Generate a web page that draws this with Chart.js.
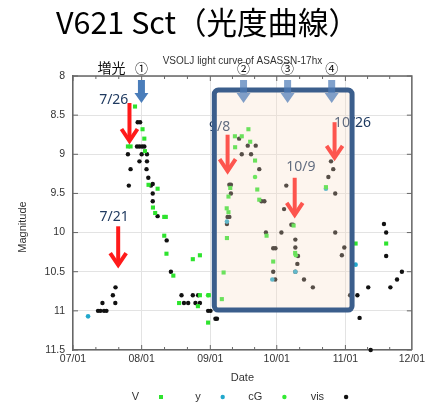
<!DOCTYPE html>
<html>
<head>
<meta charset="utf-8">
<script src="https://cdn.jsdelivr.net/npm/chart.js@4.4.1/dist/chart.umd.min.js"></script>
<style>
  html, body { margin: 0; padding: 0; background: #fff; }
  canvas { display: block; }
</style>
</head>
<body>
<canvas id="chart" width="428" height="403"></canvas>
<script>
// x values are days counted from 07/01
const monthStarts = [0, 31, 62, 92, 123, 153];
const monthLabels = ['07/01', '08/01', '09/01', '10/01', '11/01', '12/01'];
const magTicks = [8, 8.5, 9, 9.5, 10, 10.5, 11, 11.5];

const vDays = [28.0, 31.4, 24.8, 26.0, 32.2, 32.5, 34.1, 38.2, 36.1, 37.1, 41.2, 41.9, 41.2, 42.2, 54.1, 57.3, 45.3, 57.3, 61.3, 47.9, 56.4, 61.0,
  73.1, 76.2, 79.2, 73.2, 80.0, 82.2, 71.0, 70.2, 83.2, 84.1, 69.4, 70.2, 69.5, 68.0, 67.2,
  87.4, 90.4, 99.6, 100.3, 114.2, 127.6, 141.4];
const vMags = [8.39, 8.68, 8.9, 8.9, 8.8, 8.96, 9.39, 9.44, 9.68, 9.75, 9.8, 9.8, 10.04, 10.27, 10.34, 10.29, 10.55, 10.8, 10.8, 10.9, 10.94, 11.15,
  8.77, 8.77, 8.68, 8.91, 8.84, 9.08, 9.43, 9.54, 9.45, 9.58, 9.69, 9.74, 10.07, 10.51, 10.85,
  10.04, 10.37, 9.91, 10.26, 9.42, 10.14, 10.14];

const yDays = [6.8, 69.5, 90.0, 100.4, 114.2, 127.6];
const yMags = [11.07, 9.86, 10.6, 10.5, 9.44, 10.41];

const cgDays = [82.2, 100.6, 61.0];
const cgMags = [9.29, 10.29, 10.8];

const visDays = [11.3, 12.4, 14.0, 15.1, 13.3, 18.0, 19.1, 19.2,
  24.8, 25.2, 26.0, 29.2, 30.3, 28.9, 30.0, 31.2, 32.2, 31.0, 33.4, 30.0, 33.4, 33.2, 34.0, 35.2, 36.0, 36.0, 36.0, 38.2, 42.3, 44.2,
  49.0, 54.1, 56.5, 50.1, 52.0, 55.3, 57.3, 61.0, 62.1, 64.3, 65.0,
  75.0, 78.9, 82.5, 76.2, 80.4, 84.1, 70.6, 71.3, 71.3, 85.1, 86.4, 69.8, 70.6, 69.5, 87.1,
  96.3, 95.3, 98.6, 99.3, 94.1, 100.4, 90.4, 91.4, 100.4, 101.6, 101.3, 90.4, 100.4, 91.3, 104.3, 108.3,
  116.5, 117.5, 115.3, 118.4, 118.4, 122.5, 121.4, 125.1, 128.4, 129.4,
  133.3, 134.4, 140.4, 141.4, 141.4, 143.3, 146.3, 148.5];
const visMags = [11.0, 11.0, 11.0, 11.0, 10.9, 10.8, 10.9, 10.7,
  9.0, 9.4, 9.19, 8.59, 8.59, 8.9, 8.9, 8.9, 8.9, 9.0, 9.0, 9.09, 9.09, 9.19, 9.3, 9.4, 9.38, 9.5, 9.6, 9.79, 10.1, 10.5,
  10.8, 10.8, 10.8, 10.9, 10.9, 10.9, 10.9, 11.0, 11.0, 11.1, 11.1,
  8.8, 8.89, 8.89, 9.0, 9.0, 9.19, 9.39, 9.39, 9.5, 9.6, 9.6, 9.8, 9.8, 9.89, 10.0,
  9.4, 9.7, 9.9, 9.9, 10.0, 10.09, 10.2, 10.2, 10.19, 10.3, 10.4, 10.5, 10.5, 10.6, 10.6, 10.7,
  9.09, 9.19, 9.29, 9.5, 10.0, 10.19, 10.29, 10.8, 10.8, 11.09,
  10.7, 11.5, 9.89, 10.0, 10.3, 10.7, 10.6, 10.5];

const pts = (xs, ys) => xs.map((x, i) => ({ x: x, y: ys[i] }));

// date marks: [label, arrow day, arrow top mag, arrow tip mag, label day, label mag]
const redMarks = [
  ['7/26', 25.5, 8.345, 8.856, 18.4, 8.31],
  ['7/21', 20.4, 9.92, 10.44, 18.6, 9.80],
  ['9/8', 69.8, 8.75, 9.24, 66.2, 8.65],
  ['10/9', 100.1, 9.30, 9.80, 102.9, 9.16],
  ['10/26', 118.1, 8.59, 9.07, 126.2, 8.60]
];
const stageDays = [30.9, 77.0, 96.9, 116.8];
const stageNames = ['①', '②', '③', '④'];

function blockArrow(ctx, cx, y0, y1, shaftW, headW, headL) {
  ctx.beginPath();
  ctx.moveTo(cx - shaftW / 2, y0);
  ctx.lineTo(cx + shaftW / 2, y0);
  ctx.lineTo(cx + shaftW / 2, y1 - headL);
  ctx.lineTo(cx + headW / 2, y1 - headL);
  ctx.lineTo(cx, y1);
  ctx.lineTo(cx - headW / 2, y1 - headL);
  ctx.lineTo(cx - shaftW / 2, y1 - headL);
  ctx.closePath();
  ctx.fill();
}

function redArrow(ctx, cx, y0, y1) {
  ctx.beginPath();
  ctx.moveTo(cx, y0);
  ctx.lineTo(cx, y1 - 2);
  ctx.stroke();
  ctx.beginPath();
  ctx.moveTo(cx - 8, y1 - 14);
  ctx.lineTo(cx, y1 - 2);
  ctx.lineTo(cx + 8, y1 - 14);
  ctx.stroke();
}

const deco = {
  id: 'deco',
  afterDatasetsDraw(chart) {
    const { ctx, chartArea: a, scales } = chart;
    const X = d => scales.x.getPixelForValue(d);
    const Y = m => scales.y.getPixelForValue(m);
    ctx.save();

    // top / right frame and inward ticks
    ctx.strokeStyle = '#666';
    ctx.lineWidth = 1.5;
    ctx.beginPath();
    ctx.moveTo(a.left, a.top); ctx.lineTo(a.right, a.top); ctx.lineTo(a.right, a.bottom);
    ctx.stroke();
    ctx.lineWidth = 1;
    ctx.beginPath();
    for (let i = 0; i < monthStarts.length - 1; i++) {
      const m0 = monthStarts[i], m1 = monthStarts[i + 1];
      for (let k = 0; k < 3; k++) {
        const px = X(m0 + (m1 - m0) * k / 3);
        const len = k === 0 ? 5 : 3;
        ctx.moveTo(px, a.bottom); ctx.lineTo(px, a.bottom - len);
        ctx.moveTo(px, a.top); ctx.lineTo(px, a.top + len);
      }
    }
    magTicks.forEach(m => {
      ctx.moveTo(a.left, Y(m)); ctx.lineTo(a.left + 5, Y(m));
      ctx.moveTo(a.right, Y(m)); ctx.lineTo(a.right - 5, Y(m));
    });
    ctx.stroke();

    // red arrows and dates
    ctx.strokeStyle = '#ff1a1a';
    ctx.lineWidth = 4;
    ctx.lineJoin = 'miter';
    redMarks.forEach(r => redArrow(ctx, X(r[1]), Y(r[2]), Y(r[3])));
    ctx.fillStyle = '#1f3a60';
    ctx.font = '14px "Noto Sans"';
    ctx.textAlign = 'center';
    ctx.textBaseline = 'middle';
    redMarks.forEach(r => ctx.fillText(r[0], X(r[4]), Y(r[5])));

    // highlighted period box
    const bx0 = X(63.8), bx1 = X(126.0), by0 = Y(8.18), by1 = Y(10.99);
    ctx.fillStyle = 'rgba(247, 222, 200, 0.3)';
    ctx.beginPath();
    ctx.roundRect(bx0, by0, bx1 - bx0, by1 - by0, 4);
    ctx.fill();
    ctx.strokeStyle = '#3b5e8c';
    ctx.lineWidth = 5;
    ctx.stroke();

    // blue stage arrows
    stageDays.forEach((d, i) => {
      ctx.fillStyle = i === 0 ? '#4a7dba' : 'rgba(79, 125, 185, 0.72)';
      blockArrow(ctx, X(d), a.top + 4, Y(8.345), 7, 14, 10);
    });
    ctx.restore();
  },
  afterDraw(chart) {
    const { ctx, chartArea: a, scales } = chart;
    const X = d => scales.x.getPixelForValue(d);
    ctx.save();
    ctx.textBaseline = 'middle';
    ctx.textAlign = 'center';

    ctx.fillStyle = '#333';
    ctx.font = '10px "Liberation Sans"';
    ctx.fillText('VSOLJ light curve of ASASSN-17hx', (a.left + a.right) / 2, a.top - 15);

    ctx.fillStyle = '#111';
    ctx.font = '13px "Noto Sans CJK JP"';
    stageDays.forEach((d, i) => ctx.fillText(stageNames[i], X(d), a.top - 8));
    ctx.font = '14px "Noto Sans CJK JP"';
    ctx.fillText('増光', X(17.4), a.top - 8);

    // y axis title
    ctx.save();
    ctx.translate(23, 227);
    ctx.rotate(-Math.PI / 2);
    ctx.fillStyle = '#333';
    ctx.font = '11px "Liberation Sans"';
    ctx.fillText('Magnitude', 0, 0);
    ctx.restore();

    // key: label, then marker to its right
    ctx.font = '11px "Liberation Sans"';
    ctx.textAlign = 'right';
    chart.data.datasets.forEach((ds, i) => {
      const mx = 161 + i * 61.7, my = 397;
      ctx.fillStyle = '#333';
      ctx.fillText(ds.label, mx - 22, my);
      ctx.fillStyle = ds.backgroundColor;
      if (ds.pointStyle === 'rect') {
        ctx.fillRect(mx - 2, my - 2, 4, 4);
      } else {
        ctx.beginPath();
        ctx.arc(mx, my, 2.2, 0, Math.PI * 2);
        ctx.fill();
      }
    });
    ctx.restore();
  }
};

const tickFont = { family: 'Liberation Sans', size: 10.5 };

new Chart(document.getElementById('chart').getContext('2d'), {
  type: 'scatter',
  data: {
    datasets: [
      { label: 'V', data: pts(vDays, vMags), backgroundColor: '#2ee32e', pointStyle: 'rect', pointRadius: 2.9, borderWidth: 0, clip: false },
      { label: 'y', data: pts(yDays, yMags), backgroundColor: '#22a8cc', pointStyle: 'circle', pointRadius: 2.3, borderWidth: 0, clip: false },
      { label: 'cG', data: pts(cgDays, cgMags), backgroundColor: '#33ea33', pointStyle: 'circle', pointRadius: 2.3, borderWidth: 0, clip: false },
      { label: 'vis', data: pts(visDays, visMags), backgroundColor: '#111', pointStyle: 'circle', pointRadius: 2.2, borderWidth: 0, clip: false }
    ]
  },
  options: {
    responsive: false,
    animation: false,
    layout: { padding: { left: 0, right: 13, top: 0, bottom: 0 } },
    scales: {
      x: {
        type: 'linear',
        min: 0,
        max: 153,
        afterBuildTicks: s => { s.ticks = monthStarts.map(v => ({ value: v })); },
        afterFit: s => { s.height = 53; },
        ticks: {
          callback: v => monthLabels[monthStarts.indexOf(v)],
          font: tickFont, color: '#333', padding: 3, maxRotation: 0, autoSkip: false
        },
        grid: { color: '#e3e3e3', drawTicks: false },
        border: { color: '#666', width: 1.5 },
        title: {
          display: true, text: 'Date', color: '#333',
          font: { family: 'Liberation Sans', size: 11 },
          padding: { top: 0, bottom: 18 }
        }
      },
      y: {
        type: 'linear',
        reverse: true,
        min: 8,
        max: 11.5,
        afterBuildTicks: s => { s.ticks = magTicks.map(v => ({ value: v })); },
        afterFit: s => { s.width = 73; },
        ticks: { callback: v => String(v), font: tickFont, color: '#333', padding: 8 },
        grid: { color: '#e3e3e3', drawTicks: false },
        border: { color: '#666', width: 1.5 }
      }
    },
    plugins: {
      legend: { display: false },
      tooltip: { enabled: false },
      title: {
        display: true,
        text: 'V621 Sct（光度曲線）',
        color: '#000',
        font: { family: 'Noto Sans CJK JP', size: 30.5, weight: 'normal' },
        padding: { top: 4, bottom: 35.4 }
      }
    }
  },
  plugins: [deco]
});
</script>
</body>
</html>
